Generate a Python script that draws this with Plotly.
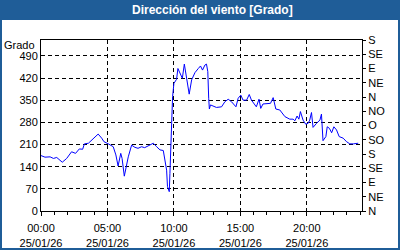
import plotly.graph_objects as go

DATE = "2026-01-25"
times = ["00:00","00:18","00:41","00:56","01:11","01:36","01:56","02:18","02:36","02:53",
         "03:08","03:16","03:34","03:48","04:04","04:18","04:34","04:44","05:04","05:26",
         "05:38","05:48","06:00","06:06","06:16","06:26","06:34","06:49","07:04","07:18",
         "07:34","07:48","08:04","08:27","08:42","08:57","09:12","09:19","09:27","09:31",
         "09:39","09:42","09:46","09:52","09:54","10:00","10:12","10:18","10:24","10:38",
         "10:47","10:57","11:09","11:20","11:35","11:50","12:00","12:09","12:20","12:27",
         "12:33","12:37","12:40","12:45","13:12","13:35","13:50","14:05","14:20","14:40",
         "14:50","15:02","15:12","15:28","15:40","15:50","16:00","16:12","16:24","16:32",
         "16:42","17:00","17:16","17:28","17:40","17:58","18:21","18:43","18:58","19:06",
         "19:16","19:24","19:31","19:43","19:55","20:06","20:13","20:21","20:28","20:44",
         "20:59","21:06","21:13","21:26","21:32","21:42","21:52","22:02","22:14","22:26",
         "22:44","22:59","23:14","23:30","23:44","23:52"]
values = [175,170,171,166,169,154,166,187,182,196,
          195,212,214,224,235,243,230,219,212,203,
          177,142,182,166,110,150,171,208,201,198,
          203,200,206,214,203,193,191,161,129,77,
          61,119,214,293,361,403,416,450,440,419,
          464,424,369,414,437,450,458,445,461,464,
          440,356,322,335,327,329,345,353,345,329,
          356,366,350,350,368,350,340,329,353,324,
          338,340,340,358,322,319,298,290,290,285,
          300,290,314,287,274,277,287,311,264,277,
          287,306,222,235,266,261,247,266,256,235,
          230,219,212,212,214,214]

left_ticks = [0, 70, 140, 210, 280, 350, 420, 490]
right_ticks = [0, 45, 90, 135, 180, 225, 270, 315, 360, 405, 450, 495, 540]
right_labels = ["N","NE","E","SE","S","SO","O","NO","N","NE","E","SE","S"]
x_tick_times = ["00:00","05:00","10:00","15:00","20:00"]
x_tick_date = "25/01/26"
title_text = "Dirección del viento [Grado]"
unit_text = "Grado"

W, H = 400, 250
L, R, T, B = 41, 38, 40, 39
PW, PH = W - L - R, H - T - B

def px(x):
    return (x - L) / PW

def py(y):
    return (H - B - y) / PH

xs = [f"{DATE} {t}" for t in times]
FONT = dict(family="Liberation Sans, Arial, sans-serif", size=11, color="black")
BLUE = "#1F5D98"

fig = go.Figure()
fig.add_trace(go.Scatter(x=xs, y=values, mode="lines",
                         line=dict(color="#0000FF", width=1), showlegend=False))
fig.add_trace(go.Scatter(x=xs, y=values, mode="lines", yaxis="y2", opacity=0,
                         line=dict(width=0), showlegend=False, hoverinfo="skip"))

fig.update_layout(
    width=W, height=H,
    margin=dict(l=L, r=R, t=T, b=B, autoexpand=False),
    paper_bgcolor="white", plot_bgcolor="white",
    font=FONT,
    xaxis=dict(
        type="date",
        range=[f"{DATE} 00:00", "2026-01-26 00:09"],
        tickvals=[f"{DATE} {t}" for t in x_tick_times],
        ticktext=[f"{t}<br>{x_tick_date}" for t in x_tick_times],
        ticks="outside", ticklen=4, tickcolor="black", ticklabelstandoff=3,
        showgrid=True, gridcolor="black", gridwidth=1, griddash="4px,3px",
        showline=True, linecolor="black", linewidth=1, mirror=True,
        minor=dict(dtick=3600000, ticks="outside", ticklen=3, tickcolor="black", showgrid=False),
        zeroline=False, fixedrange=True, automargin=False,
    ),
    yaxis=dict(
        range=[0, 540], tickvals=left_ticks, ticktext=[str(v) for v in left_ticks],
        ticks="", showgrid=True, gridcolor="black", gridwidth=1, griddash="4px,3px",
        showline=True, linecolor="black", linewidth=1, mirror=True,
        zeroline=False, fixedrange=True, automargin=False,
    ),
    yaxis2=dict(
        range=[0, 540], overlaying="y", side="right",
        tickvals=right_ticks, ticktext=right_labels,
        ticks="outside", ticklen=3, tickcolor="black",
        showgrid=False, showline=False, zeroline=False, fixedrange=True, automargin=False,
    ),
    shapes=[
        dict(type="rect", xref="paper", yref="paper",
             x0=px(0), x1=px(W), y0=py(20), y1=py(0),
             fillcolor=BLUE, line=dict(width=0), layer="above"),
        dict(type="rect", xref="paper", yref="paper",
             x0=px(1), x1=px(W - 1), y0=py(H - 1), y1=py(1),
             fillcolor="rgba(0,0,0,0)", line=dict(color=BLUE, width=2), layer="above"),
    ],
    annotations=[
        dict(text=f"<b>{title_text}</b>", xref="paper", yref="paper",
             x=px(213), y=py(10.5), xanchor="center", yanchor="middle", showarrow=False,
             font=dict(family="Liberation Sans, Arial, sans-serif", size=12, color="white")),
        dict(text=unit_text, xref="paper", yref="paper",
             x=px(37), y=py(45), xanchor="right", yanchor="middle", showarrow=False,
             font=FONT),
    ],
)

fig.write_html("out.html")
